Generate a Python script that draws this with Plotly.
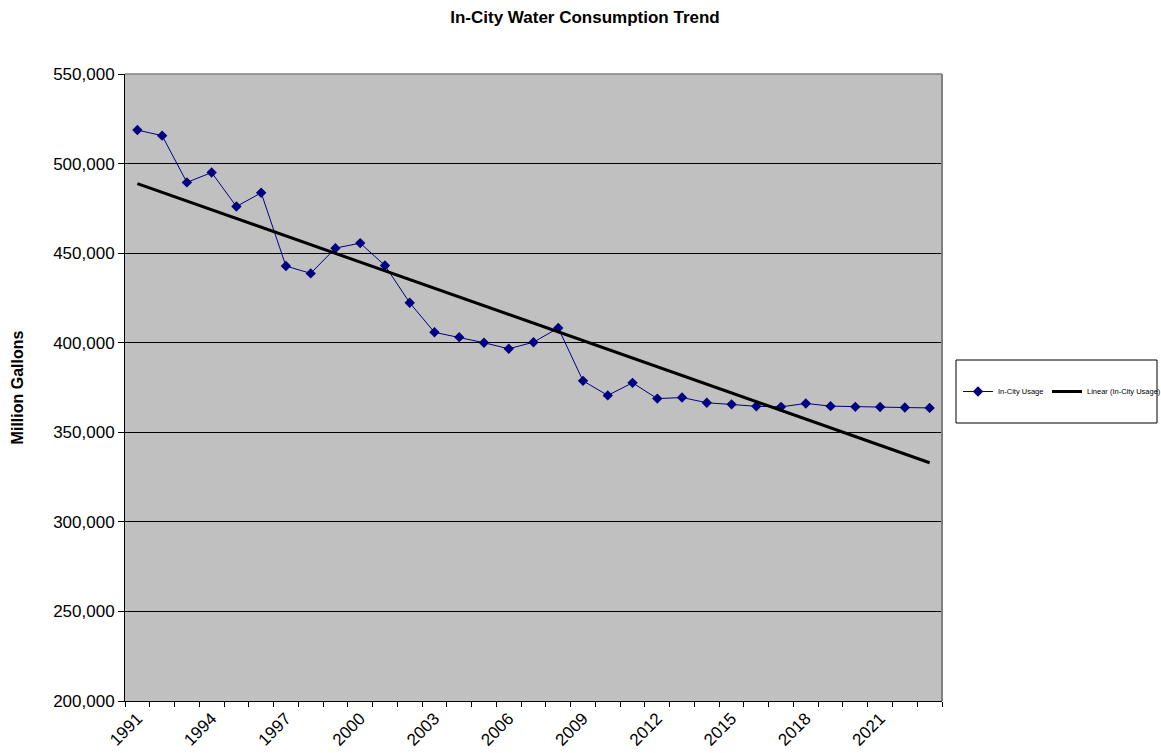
import numpy as np
import plotly.graph_objects as go

years = list(range(1991, 2024))
usage = [518700, 515600, 489500, 495000, 476000, 483700, 442800, 438700, 452800, 455600,
         443100, 422300, 405800, 403100, 400000, 396600, 400300, 408200, 378700, 370600,
         377600, 368800, 369400, 366500, 365600, 364500, 364200, 366100, 364600, 364200,
         364100, 363800, 363600]
tick_years = list(range(1991, 2024, 3))
y_ticks = list(range(200000, 550001, 50000))

coef = np.polyfit(years, usage, 1)
trend = [coef[0] * y + coef[1] for y in years]

W, H = 1161, 753
L, T = 125, 74
R, B = W - 942, H - 701
PW, PH = 942 - 125, 701 - 74

fig = go.Figure()
fig.add_trace(go.Scatter(
    x=years, y=usage, mode="lines+markers", name="In-City Usage",
    line=dict(color="#000080", width=1),
    marker=dict(symbol="diamond", size=8, color="#000080"),
    legend="legend",
))
fig.add_trace(go.Scatter(
    x=years, y=trend, mode="lines", name="Linear (In-City Usage)",
    line=dict(color="black", width=3),
    legend="legend2",
))

leg_common = dict(orientation="h", y=(701 - 391.5) / PH, yanchor="middle", xanchor="left",
                  bgcolor="rgba(0,0,0,0)", font=dict(size=7.5, color="black"),
                  itemwidth=30)

fig.update_layout(
    width=W, height=H,
    margin=dict(l=L, r=R, t=T, b=B, autoexpand=False),
    paper_bgcolor="white", plot_bgcolor="#C0C0C0",
    font=dict(family="Liberation Sans, Arial", color="black"),
    title=dict(text="<b>In-City Water Consumption Trend</b>", x=585 / W,
               xanchor="center", y=1 - 17 / H, yanchor="middle",
               font=dict(size=17, color="black")),
    showlegend=True,
    legend=dict(x=(958 - 125) / PW, **leg_common),
    legend2=dict(x=(1047 - 125) / PW, **leg_common),
    xaxis=dict(
        range=[1990.5, 2023.5], tickmode="array", tickvals=tick_years,
        ticktext=[str(t) for t in tick_years], tickangle=-45, ticks="",
        tickfont=dict(size=17, color="black"), showgrid=False, zeroline=False,
        showline=True, linecolor="black", linewidth=1,
        minor=dict(tickmode="linear", tick0=1990.5, dtick=1, ticks="outside",
                   ticklen=5, tickcolor="black", showgrid=False),
    ),
    yaxis=dict(
        range=[200000, 550000], tickmode="array", tickvals=y_ticks,
        tickformat=",", ticks="outside", ticklen=6, tickcolor="black",
        tickfont=dict(size=17, color="black"), showgrid=True, gridcolor="black", gridwidth=1,
        zeroline=False, showline=True, linecolor="black", linewidth=1,
        title=dict(text="<b>Million Gallons</b>", font=dict(size=16, color="black"), standoff=25),
    ),
)

# plot area frame (top/right gray border)
fig.add_shape(type="line", xref="paper", yref="paper", x0=0, x1=1, y0=1, y1=1,
              line=dict(color="#808080", width=1.5))
fig.add_shape(type="line", xref="paper", yref="paper", x0=1, x1=1, y0=0, y1=1,
              line=dict(color="#808080", width=2))
# legend box
fig.add_shape(type="rect", xref="paper", yref="paper",
              x0=(956 - 125) / PW, x1=(1157 - 125) / PW,
              y0=(701 - 423) / PH, y1=(701 - 360) / PH,
              line=dict(color="black", width=1), fillcolor="rgba(0,0,0,0)")

fig.write_html(
    "out.html",
    config={"displayModeBar": False},
    post_script="document.body.style.margin='0';document.body.style.overflow='hidden';",
)
